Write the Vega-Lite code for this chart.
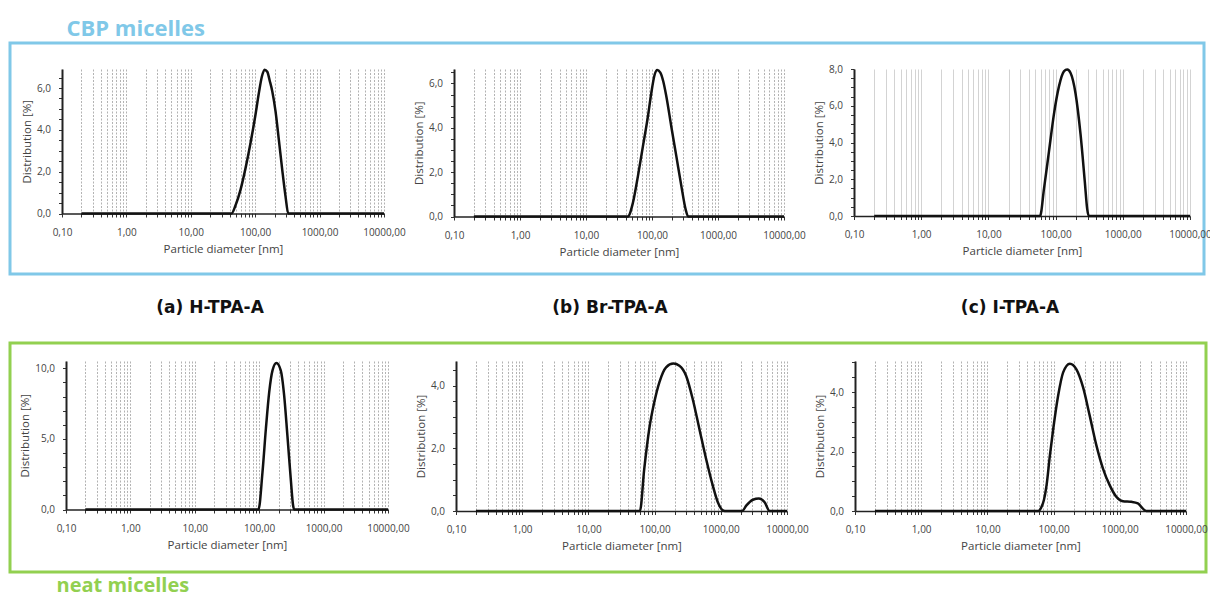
{
  "$schema": "https://vega.github.io/schema/vega-lite/v6.json",
  "background": "white",
  "padding": {"left": 8, "top": 17, "right": 0, "bottom": 0},
  "title": {"text": "CBP micelles", "anchor": "start", "dx": 58, "offset": 1, "fontSize": 22, "font": "Open Sans", "fontWeight": "bold", "color": "#80c8e8"},
  "config": {
    "view": {"stroke": null},
    "locale": {"number": {"decimal": ",", "thousands": ".", "grouping": [3], "currency": ["", " €"]}},
    "axis": {"labelFont": "Open Sans", "titleFont": "Open Sans", "labelFontSize": 10, "titleFontSize": 11.5, "titleFontWeight": "normal", "labelColor": "#444", "titleColor": "#444", "domainColor": "#222", "tickColor": "#333", "tickSize": 3.5},
    "axisX": {"grid": true, "gridDash": [2, 1.5], "gridColor": "#b3b3b3", "domainWidth": 1.5, "labelPadding": 10, "titlePadding": 6, "labelFlush": false, "labelOverlap": false, "labelBound": false},
    "axisY": {"grid": false, "domainWidth": 2, "labelPadding": 8, "titlePadding": 4, "labelOverlap": false}
  },
  "spacing": 16,
  "vconcat": [
    {
      "align": "none",
      "spacing": -213,
      "vconcat": [
        {"width": 1194, "height": 231, "view": {"stroke": "#80c8e8", "strokeWidth": 3}, "data": {"values": [{}]}, "mark": {"type": "text", "text": ""}, "encoding": {}},
        {
          "spacing": 0,
          "hconcat": [
            {"width": 11, "height": 1, "data": {"values": [{}]}, "mark": {"type": "text", "text": ""}, "encoding": {}},
            {
              "bounds": "flush",
              "spacing": 70,
              "hconcat": [
                {
                  "width": 322, "height": 144.5,
                  "data": {"values": [{"d":0.2,"p":0},{"d":42.9,"p":0},{"d":49.4,"p":0.38},{"d":59.1,"p":1.13},{"d":70.8,"p":2.17},{"d":84.6,"p":3.37},{"d":101,"p":4.72},{"d":114,"p":5.76},{"d":127,"p":6.55},{"d":140,"p":6.88},{"d":154,"p":6.78},{"d":168,"p":6.35},{"d":184,"p":5.85},{"d":207,"p":4.88},{"d":233,"p":3.52},{"d":263,"p":2.09},{"d":296,"p":0.81},{"d":326,"p":0},{"d":10000,"p":0}]},
                  "mark": {"type": "line", "interpolate": "monotone", "strokeWidth": 2.5, "color": "#111"},
                  "encoding": {
                    "x": {"field": "d", "type": "quantitative", "scale": {"type": "log", "domain": [0.1, 10000], "nice": false}, "axis": {"title": "Particle diameter [nm]", "format": ".2f", "values": [0.1,0.2,0.3,0.4,0.5,0.6,0.7,0.8,0.9,1,2,3,4,5,6,7,8,9,10,20,30,40,50,60,70,80,90,100,200,300,400,500,600,700,800,900,1000,2000,3000,4000,5000,6000,7000,8000,9000,10000], "labelExpr": "indexof([0.1,1,10,100,1000,10000], datum.value) >= 0 ? datum.label : ''"}},
                    "y": {"field": "p", "type": "quantitative", "scale": {"domain": [0, 6.91], "nice": false}, "axis": {"title": "Distribution [%]", "format": ".1f", "values": [0,0.5,1,1.5,2,2.5,3,3.5,4,4.5,5,5.5,6,6.5], "labelExpr": "datum.value % 2 === 0 ? datum.label : ''"}}
                  }
                },
                {
                  "width": 330, "height": 147.5,
                  "data": {"values": [{"d":0.2,"p":0},{"d":43,"p":0},{"d":51.3,"p":0.61},{"d":61.1,"p":1.81},{"d":72.8,"p":3.16},{"d":86.7,"p":4.51},{"d":97.5,"p":5.56},{"d":109.6,"p":6.39},{"d":120,"p":6.6},{"d":133,"p":6.5},{"d":148,"p":6.1},{"d":165,"p":5.41},{"d":196,"p":4.06},{"d":234,"p":2.71},{"d":279,"p":1.36},{"d":324,"p":0.31},{"d":352,"p":0},{"d":10000,"p":0}]},
                  "mark": {"type": "line", "interpolate": "monotone", "strokeWidth": 2.5, "color": "#111"},
                  "encoding": {
                    "x": {"field": "d", "type": "quantitative", "scale": {"type": "log", "domain": [0.1, 10000], "nice": false}, "axis": {"title": "Particle diameter [nm]", "format": ".2f", "values": [0.1,0.2,0.3,0.4,0.5,0.6,0.7,0.8,0.9,1,2,3,4,5,6,7,8,9,10,20,30,40,50,60,70,80,90,100,200,300,400,500,600,700,800,900,1000,2000,3000,4000,5000,6000,7000,8000,9000,10000], "labelExpr": "indexof([0.1,1,10,100,1000,10000], datum.value) >= 0 ? datum.label : ''"}},
                    "y": {"field": "p", "type": "quantitative", "scale": {"domain": [0, 6.65], "nice": false}, "axis": {"title": "Distribution [%]", "format": ".1f", "values": [0,0.5,1,1.5,2,2.5,3,3.5,4,4.5,5,5.5,6,6.5], "labelExpr": "datum.value % 2 === 0 ? datum.label : ''"}}
                  }
                },
                {
                  "width": 336, "height": 147,
                  "data": {"values": [{"d":0.2,"p":0},{"d":58.7,"p":0},{"d":67.3,"p":1.5},{"d":79.8,"p":3.53},{"d":94.6,"p":5.56},{"d":112,"p":7.04},{"d":133,"p":7.87},{"d":149,"p":7.97},{"d":167,"p":7.78},{"d":198,"p":6.67},{"d":235,"p":4.45},{"d":272,"p":1.87},{"d":295,"p":0.39},{"d":312,"p":0},{"d":10000,"p":0}]},
                  "mark": {"type": "line", "interpolate": "monotone", "strokeWidth": 2.5, "color": "#111"},
                  "encoding": {
                    "x": {"field": "d", "type": "quantitative", "scale": {"type": "log", "domain": [0.1, 10000], "nice": false}, "axis": {"title": "Particle diameter [nm]", "format": ".2f", "gridDash": [], "gridColor": "#d3d3d3", "values": [0.1,0.2,0.3,0.4,0.5,0.6,0.7,0.8,0.9,1,2,3,4,5,6,7,8,9,10,20,30,40,50,60,70,80,90,100,200,300,400,500,600,700,800,900,1000,2000,3000,4000,5000,6000,7000,8000,9000,10000], "labelExpr": "indexof([0.1,1,10,100,1000,10000], datum.value) >= 0 ? datum.label : ''"}},
                    "y": {"field": "p", "type": "quantitative", "scale": {"domain": [0, 8], "nice": false}, "axis": {"title": "Distribution [%]", "format": ".1f", "values": [0,0.5,1,1.5,2,2.5,3,3.5,4,4.5,5,5.5,6,6.5,7,7.5,8], "labelExpr": "datum.value % 2 === 0 ? datum.label : ''"}}
                  }
                }
              ]
            }
          ]
        }
      ]
    },
    {
      "width": 1200, "height": 32.5,
      "data": {"values": [{"caption": "(a) H-TPA-A"}, {"caption": "(b) Br-TPA-A"}, {"caption": "(c) I-TPA-A"}]},
      "mark": {"type": "text", "font": "DejaVu Sans", "fontWeight": "bold", "fontSize": 17, "color": "#111"},
      "encoding": {"x": {"field": "caption", "type": "nominal", "sort": null, "axis": null}, "text": {"field": "caption"}}
    },
    {
      "align": "none",
      "spacing": -219,
      "title": {"text": "neat micelles", "orient": "bottom", "anchor": "start", "dx": 48, "offset": 2, "fontSize": 20, "font": "Open Sans", "fontWeight": "bold", "color": "#92d050"},
      "vconcat": [
        {"width": 1196, "height": 229, "view": {"stroke": "#92d050", "strokeWidth": 3}, "data": {"values": [{}]}, "mark": {"type": "text", "text": ""}, "encoding": {}},
        {
          "spacing": 0,
          "hconcat": [
            {"width": 9, "height": 1, "data": {"values": [{}]}, "mark": {"type": "text", "text": ""}, "encoding": {}},
            {
              "bounds": "flush",
              "spacing": 68,
              "hconcat": [
                {
                  "width": 322, "height": 148.5,
                  "data": {"values": [{"d":0.2,"p":0},{"d":97.5,"p":0},{"d":112.5,"p":2.65},{"d":127,"p":5.72},{"d":143,"p":8.32},{"d":161,"p":9.86},{"d":185,"p":10.38},{"d":216,"p":9.86},{"d":244,"p":8.09},{"d":274,"p":5.25},{"d":309,"p":2.17},{"d":336,"p":0.28},{"d":348,"p":0},{"d":10000,"p":0}]},
                  "mark": {"type": "line", "interpolate": "monotone", "strokeWidth": 2.5, "color": "#111"},
                  "encoding": {
                    "x": {"field": "d", "type": "quantitative", "scale": {"type": "log", "domain": [0.1, 10000], "nice": false}, "axis": {"title": "Particle diameter [nm]", "format": ".2f", "values": [0.1,0.2,0.3,0.4,0.5,0.6,0.7,0.8,0.9,1,2,3,4,5,6,7,8,9,10,20,30,40,50,60,70,80,90,100,200,300,400,500,600,700,800,900,1000,2000,3000,4000,5000,6000,7000,8000,9000,10000], "labelExpr": "indexof([0.1,1,10,100,1000,10000], datum.value) >= 0 ? datum.label : ''"}},
                    "y": {"field": "p", "type": "quantitative", "scale": {"domain": [0, 10.52], "nice": false}, "axis": {"title": "Distribution [%]", "format": ".1f", "values": [0,1,2,3,4,5,6,7,8,9,10], "labelExpr": "datum.value % 5 === 0 ? datum.label : ''"}}
                  }
                },
                {
                  "width": 331, "height": 150,
                  "data": {"values": [{"d":0.2,"p":0},{"d":60,"p":0},{"d":69.7,"p":1.34},{"d":83,"p":2.62},{"d":98.8,"p":3.47},{"d":118,"p":4.11},{"d":149,"p":4.59},{"d":192,"p":4.71},{"d":237,"p":4.64},{"d":299,"p":4.32},{"d":377,"p":3.57},{"d":475,"p":2.62},{"d":600,"p":1.66},{"d":757,"p":0.81},{"d":902,"p":0.28},{"d":1072,"p":0.02},{"d":1150,"p":0},{"d":2104,"p":0},{"d":2420,"p":0.17},{"d":3055,"p":0.36},{"d":3767,"p":0.4},{"d":4592,"p":0.28},{"d":5460,"p":0},{"d":10000,"p":0}]},
                  "mark": {"type": "line", "interpolate": "monotone", "strokeWidth": 2.5, "color": "#111"},
                  "encoding": {
                    "x": {"field": "d", "type": "quantitative", "scale": {"type": "log", "domain": [0.1, 10000], "nice": false}, "axis": {"title": "Particle diameter [nm]", "format": ".2f", "values": [0.1,0.2,0.3,0.4,0.5,0.6,0.7,0.8,0.9,1,2,3,4,5,6,7,8,9,10,20,30,40,50,60,70,80,90,100,200,300,400,500,600,700,800,900,1000,2000,3000,4000,5000,6000,7000,8000,9000,10000], "labelExpr": "indexof([0.1,1,10,100,1000,10000], datum.value) >= 0 ? datum.label : ''"}},
                    "y": {"field": "p", "type": "quantitative", "scale": {"domain": [0, 4.79], "nice": false}, "axis": {"title": "Distribution [%]", "format": ".1f", "values": [0,0.5,1,1.5,2,2.5,3,3.5,4,4.5], "labelExpr": "datum.value % 2 === 0 ? datum.label : ''"}}
                  }
                },
                {
                  "width": 331, "height": 150,
                  "data": {"values": [{"d":0.2,"p":0},{"d":58.6,"p":0},{"d":65.8,"p":0.14},{"d":71.4,"p":0.37},{"d":78.3,"p":0.87},{"d":87.9,"p":1.87},{"d":98.7,"p":2.76},{"d":117,"p":3.88},{"d":139,"p":4.66},{"d":176,"p":4.96},{"d":221,"p":4.77},{"d":279,"p":4.16},{"d":351,"p":3.21},{"d":443,"p":2.21},{"d":557,"p":1.43},{"d":703,"p":0.87},{"d":885,"p":0.48},{"d":1115,"p":0.33},{"d":1489,"p":0.31},{"d":1875,"p":0.26},{"d":2104,"p":0.14},{"d":2500,"p":0},{"d":10000,"p":0}]},
                  "mark": {"type": "line", "interpolate": "monotone", "strokeWidth": 2.5, "color": "#111"},
                  "encoding": {
                    "x": {"field": "d", "type": "quantitative", "scale": {"type": "log", "domain": [0.1, 10000], "nice": false}, "axis": {"title": "Particle diameter [nm]", "format": ".2f", "values": [0.1,0.2,0.3,0.4,0.5,0.6,0.7,0.8,0.9,1,2,3,4,5,6,7,8,9,10,20,30,40,50,60,70,80,90,100,200,300,400,500,600,700,800,900,1000,2000,3000,4000,5000,6000,7000,8000,9000,10000], "labelExpr": "indexof([0.1,1,10,100,1000,10000], datum.value) >= 0 ? datum.label : ''"}},
                    "y": {"field": "p", "type": "quantitative", "scale": {"domain": [0, 5.05], "nice": false}, "axis": {"title": "Distribution [%]", "format": ".1f", "values": [0,0.5,1,1.5,2,2.5,3,3.5,4,4.5,5], "labelExpr": "datum.value % 2 === 0 ? datum.label : ''"}}
                  }
                }
              ]
            }
          ]
        }
      ]
    }
  ]
}
